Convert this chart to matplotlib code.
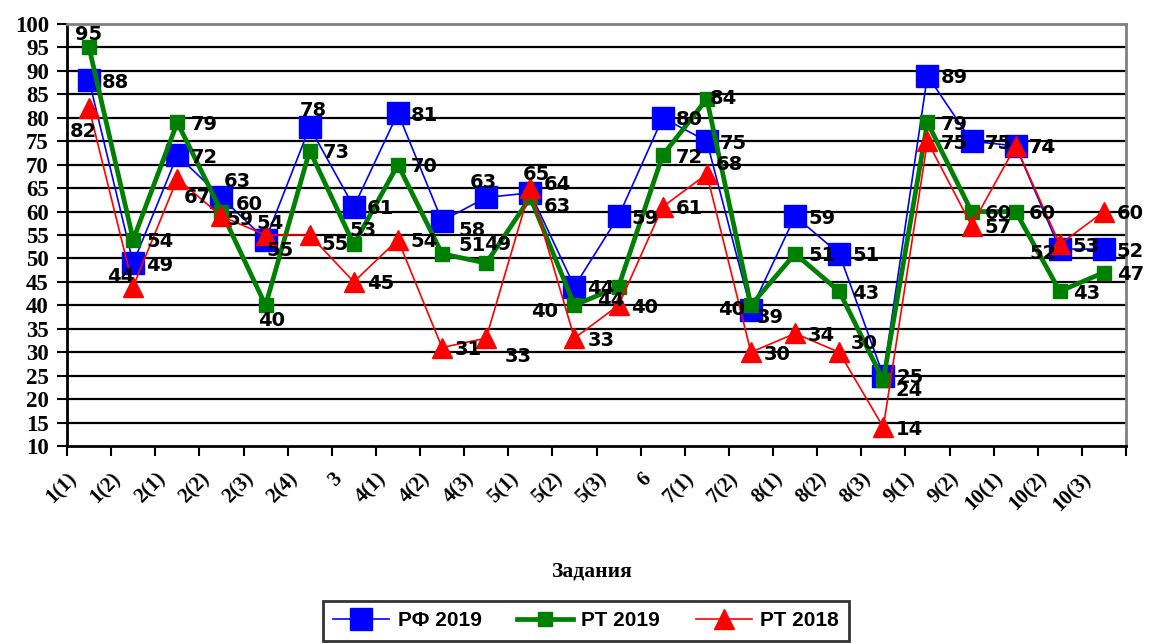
import matplotlib
matplotlib.use('Agg')
import matplotlib.pyplot as plt
from matplotlib.ticker import FixedLocator

# Data
tasks = ['1(1)', '1(2)', '2(1)', '2(2)', '2(3)', '2(4)', '3', '4(1)', '4(2)', '4(3)',
         '5(1)', '5(2)', '5(3)', '6', '7(1)', '7(2)', '8(1)', '8(2)', '8(3)', '9(1)',
         '9(2)', '10(1)', '10(2)', '10(3)']
rf_2019 = [88, 49, 72, 63, 54, 78, 61, 81, 58, 63, 64, 44, 59, 80, 75, 39, 59, 51, 25, 89, 75, 74, 52, 52]
rt_2019 = [95, 54, 79, 60, 40, 73, 53, 70, 51, 49, 63, 40, 44, 72, 84, 40, 51, 43, 24, 79, 60, 60, 43, 47]
rt_2018 = [82, 44, 67, 59, 55, 55, 45, 54, 31, 33, 65, 33, 40, 61, 68, 30, 34, 30, 14, 75, 57, 74, 53, 60]
series_names = ['РФ 2019', 'РТ 2019', 'РТ 2018']

# label placement tweaks (pixels): (dx, dy, ha)
label_pos = {
    ('rf', 3): (16, 16, 'center'), ('rf', 4): (4, 16, 'center'), ('rf', 5): (4, 17, 'center'),
    ('rf', 8): (16, -10, 'left'), ('rf', 9): (-3, 15, 'center'), ('rf', 10): (13, 8, 'left'),
    ('rf', 15): (6, -7, 'left'), ('rf', 22): (-3, -4, 'right'),
    ('rt19', 0): (0, 13, 'center'), ('rt19', 3): (14, 7, 'left'), ('rt19', 4): (6, -15, 'center'),
    ('rt19', 6): (-4, 14, 'left'), ('rt19', 8): (16, 8, 'left'), ('rt19', 9): (-2, 19, 'left'),
    ('rt19', 10): (13, -9, 'left'),
    ('rt19', 11): (-16, -6, 'right'), ('rt19', 12): (-8, -14, 'center'), ('rt19', 14): (3, 1, 'left'),
    ('rt19', 15): (-6, -4, 'right'), ('rt19', 18): (12, -10, 'left'),
    ('rt18', 0): (-6, -23, 'center'), ('rt18', 1): (1, 10, 'right'), ('rt18', 2): (6, -19, 'left'),
    ('rt18', 3): (5, -3, 'left'), ('rt18', 4): (1, -16, 'left'), ('rt18', 5): (12, -9, 'left'),
    ('rt18', 9): (18, -18, 'left'), ('rt18', 10): (6, 14, 'center'), ('rt18', 14): (9, 10, 'left'),
    ('rt18', 17): (11, 9, 'left'),
}

fig = plt.figure(figsize=(11.51, 6.44), dpi=100)
ax = fig.add_axes([67 / 1151, 1 - 446 / 644, (1126 - 67) / 1151, (446 - 24) / 644])

x = list(range(len(tasks)))
ax.plot(x, rf_2019, color='#0000FF', lw=1.2, marker='s', ms=15.5, label=series_names[0], zorder=3)
ax.plot(x, rt_2019, color='#008000', lw=3.4, marker='s', ms=9.5, label=series_names[1], zorder=4)
ax.plot(x, rt_2018, color='#FF0000', lw=1.2, marker='^', ms=15, label=series_names[2], zorder=5)

for key, vals in [('rf', rf_2019), ('rt19', rt_2019), ('rt18', rt_2018)]:
    for i, v in enumerate(vals):
        dx, dy, ha = label_pos.get((key, i), (13, -2, 'left'))
        ax.annotate(str(v), (i, v), xytext=(dx, dy), textcoords='offset pixels',
                    ha=ha, va='center', fontsize=14, fontweight='bold',
                    family='DejaVu Sans', color='black', zorder=6)

ax.set_xlim(-0.5, len(tasks) - 0.5)
ax.set_ylim(10, 100)
ax.set_yticks(range(10, 101, 5))
for y in range(15, 100, 5):
    ax.axhline(y, color='black', lw=1.6, zorder=1)

# category labels, rotated, drawn under the axis
ax.set_xticks(x)
ax.set_xticklabels([])
ax.tick_params(axis='x', which='major', length=0)
for i, t in enumerate(tasks):
    ax.annotate(t, (i, 0), xycoords=('data', 'axes fraction'), xytext=(-15, -30),
                textcoords='offset pixels', rotation=45, ha='right', va='center',
                rotation_mode='anchor', fontsize=15, fontweight='bold',
                family='Liberation Serif', annotation_clip=False)
ax.xaxis.set_minor_locator(FixedLocator([i - 0.5 for i in range(len(tasks) + 1)]))
ax.tick_params(axis='x', which='minor', length=7, width=1.5, direction='out')
ax.tick_params(axis='y', length=7, width=1.5, direction='out', pad=6)
for lbl in ax.get_yticklabels():
    lbl.set_fontsize(16.5)
    lbl.set_fontweight('bold')
    lbl.set_family('Liberation Serif')

ax.spines['left'].set_color('black')
ax.spines['left'].set_linewidth(2)
ax.spines['bottom'].set_color('black')
ax.spines['bottom'].set_linewidth(2)
ax.spines['top'].set_color('#808080')
ax.spines['top'].set_linewidth(2)
ax.spines['right'].set_color('#808080')
ax.spines['right'].set_linewidth(2)

fig.text(592 / 1151, 1 - 572 / 644, 'Задания', ha='center', va='center',
         fontsize=15.5, fontweight='bold', family='Liberation Serif')

leg = fig.legend(loc='upper center', bbox_to_anchor=(586 / 1151, 1 - 601 / 644), ncol=3,
                 frameon=True, fancybox=False, handlelength=2.7, handletextpad=0.4,
                 columnspacing=1.7, borderpad=0.5, borderaxespad=0,
                 prop={'family': 'Liberation Sans', 'weight': 'bold', 'size': 15})
leg.get_frame().set_edgecolor('black')
leg.get_frame().set_linewidth(2)

fig.savefig('out.png', dpi=100)
